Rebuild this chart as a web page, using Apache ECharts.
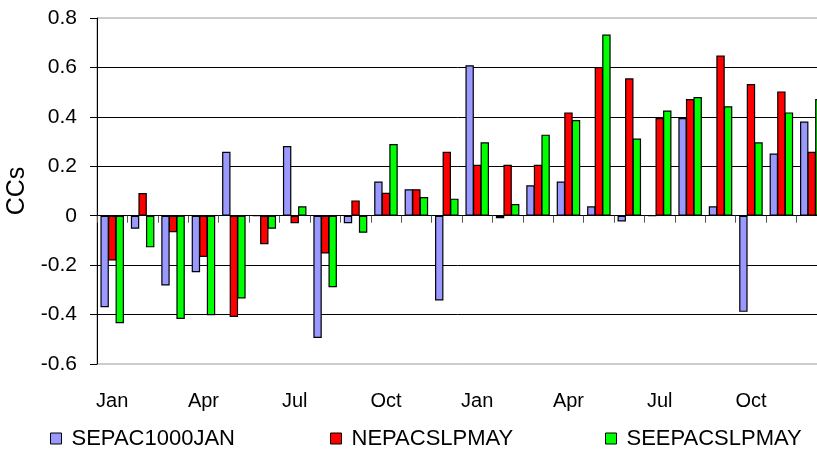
<!DOCTYPE html>
<html>
<head>
<meta charset="utf-8">
<script src="https://cdn.jsdelivr.net/npm/echarts@6/dist/echarts.min.js"></script>
<style>
html,body{margin:0;padding:0;background:#fff;}
#chart{width:817px;height:452px;}
</style>
</head>
<body>
<div id="chart"></div>
<script>
var months = ['Jan','Feb','Mar','Apr','May','Jun','Jul','Aug','Sep','Oct','Nov','Dec',
              'Jan','Feb','Mar','Apr','May','Jun','Jul','Aug','Sep','Oct','Nov','Dec'];
var seriesNames = ['SEPAC1000JAN','NEPACSLPMAY','SEEPACSLPMAY'];
var sepac1000jan = [-0.37,-0.053,-0.282,-0.229,0.259,0,0.282,-0.495,-0.03,0.138,0.107,-0.343,
                    0.609,-0.01,0.123,0.138,0.038,-0.023,0,0.395,0.038,-0.389,0.252,0.381];
var nepacslpmay  = [-0.181,0.092,-0.067,-0.167,-0.41,-0.115,-0.03,-0.153,0.062,0.093,0.107,0.259,
                    0.206,0.206,0.206,0.418,0.602,0.556,0.395,0.472,0.648,0.533,0.503,0.259];
var seepacslpmay = [-0.435,-0.128,-0.418,-0.403,-0.335,-0.053,0.038,-0.289,-0.069,0.29,0.076,0.069,
                    0.297,0.047,0.328,0.387,0.733,0.312,0.426,0.48,0.443,0.297,0.418,0.472];
var colors = ['#9999FF','#FF0000','#00FF00'];

var FONT = 'Liberation Sans, Arial, sans-serif';
var chart = echarts.init(document.getElementById('chart'));
var values = [sepac1000jan, nepacslpmay, seepacslpmay];
var legendLefts = [50, 330, 605];

var option = {
  animation: false,
  backgroundColor: '#fff',
  textStyle: {fontFamily: FONT},
  grid: {left: 97, right: -10, top: 18, bottom: 88, show: true, borderColor: '#999', borderWidth: 1,
         backgroundColor: 'transparent', containLabel: false, outerBoundsMode: 'none'},
  legend: seriesNames.map(function (n, i) {
    return {
      data: [n], left: legendLefts[i], top: 427.5, padding: 0,
      itemWidth: 11, itemHeight: 11,
      icon: 'rect',
      itemStyle: {borderColor: '#000', borderWidth: 1},
      textStyle: {fontSize: 22, color: '#000', fontFamily: FONT, lineHeight: 22, padding: [0,0,0,5]}
    };
  }),
  xAxis: [
    {
      type: 'category', data: months, position: 'bottom',
      axisLine: {show: false, onZero: false},
      axisTick: {show: false},
      axisLabel: {interval: 2, fontSize: 20, color: '#000', margin: 27, fontFamily: FONT},
      splitLine: {show: false}
    },
    {
      type: 'category', data: months, position: 'bottom',
      axisLine: {show: true, onZero: true, lineStyle: {color: '#000', width: 1}},
      axisTick: {show: true, interval: 0, length: 7, lineStyle: {color: '#555'}},
      axisLabel: {show: false},
      splitLine: {show: false}
    }
  ],
  yAxis: {
    type: 'value', min: -0.6, max: 0.8, interval: 0.2,
    name: 'CCs', nameLocation: 'middle', nameGap: 61,
    nameTextStyle: {fontSize: 25, color: '#000', fontFamily: FONT},
    axisLine: {show: true, lineStyle: {color: '#000', width: 1}},
    axisTick: {show: true, length: 7, lineStyle: {color: '#000'}},
    axisLabel: {fontSize: 21, color: '#000', margin: 20, fontFamily: FONT,
      formatter: function (v) { return String(Math.round(v * 10) / 10); }},
    splitLine: {show: true, showMinLine: false, showMaxLine: false, lineStyle: {color: '#000', width: 1}}
  },
  series: seriesNames.map(function (n, i) {
    return {
      name: n, type: 'bar', xAxisIndex: 0, data: values[i],
      barWidth: 8.4, barGap: '-10%',
      itemStyle: {color: colors[i], borderColor: '#000', borderWidth: 1.2}
    };
  })
};
chart.setOption(option);
</script>
</body>
</html>
